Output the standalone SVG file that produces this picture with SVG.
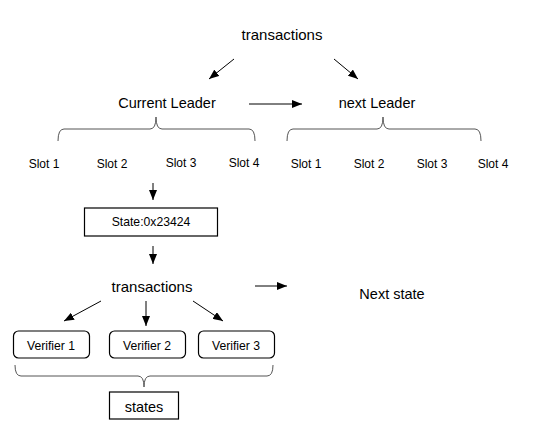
<svg xmlns="http://www.w3.org/2000/svg" width="533" height="443" viewBox="0 0 533 443">
<style>
text{font-family:"Liberation Sans",Arial,sans-serif;fill:#000;text-anchor:middle}
.t15{font-size:15px}.t14{font-size:14.5px}.s{font-size:12px}.v{font-size:12.2px}
.ln{stroke:#000;stroke-width:1;fill:none}
.br{stroke:#555;stroke-width:1;fill:none}
.box{fill:#fff;stroke:#000;stroke-width:1.2}
</style>
<defs>
<marker id="ah" markerUnits="userSpaceOnUse" markerWidth="10" markerHeight="8" refX="10" refY="4" orient="auto">
<path d="M0,0 L10,4 L0,8 z" fill="#000"/>
</marker>
</defs>
<g id="connectors">
<line class="ln" x1="234" y1="59" x2="209" y2="79" marker-end="url(#ah)"/>
<line class="ln" x1="334" y1="59" x2="358" y2="79" marker-end="url(#ah)"/>
<line class="ln" x1="249" y1="104" x2="302" y2="104" marker-end="url(#ah)"/>
<line class="ln" x1="153" y1="183" x2="153" y2="200" marker-end="url(#ah)"/>
<line class="ln" x1="153" y1="246" x2="153" y2="264" marker-end="url(#ah)"/>
<line class="ln" x1="255" y1="286" x2="287" y2="286" marker-end="url(#ah)"/>
<line class="ln" x1="101" y1="301" x2="64" y2="321" marker-end="url(#ah)"/>
<line class="ln" x1="146" y1="301" x2="146" y2="326" marker-end="url(#ah)"/>
<line class="ln" x1="193" y1="301" x2="223" y2="321" marker-end="url(#ah)"/>
<path class="br" d="M58,141 Q58,129 64,129 L150,129 Q156,129 156,117 Q156,129 162,129 L249,129 Q255,129 255,141"/>
<path class="br" d="M287,141 Q287,129 293,129 L377,129 Q383,129 383,117 Q383,129 389,129 L475,129 Q481,129 481,141"/>
<path class="br" d="M15,365 Q15,376 21,376 L138,376 Q144,376 144,387 Q144,376 150,376 L267,376 Q273,376 273,365"/>
</g>
<g id="transactions-top"><text class="t15" x="282" y="40">transactions</text></g>
<g id="current-leader"><text class="t14" x="167" y="108">Current Leader</text></g>
<g id="next-leader"><text class="t14" x="377" y="108">next Leader</text></g>
<g id="slots">
<text class="s" x="44" y="168">Slot 1</text>
<text class="s" x="112" y="168">Slot 2</text>
<text class="s" x="181" y="167">Slot 3</text>
<text class="s" x="244" y="167">Slot 4</text>
<text class="s" x="306" y="168">Slot 1</text>
<text class="s" x="369" y="168">Slot 2</text>
<text class="s" x="432" y="168">Slot 3</text>
<text class="s" x="493" y="168">Slot 4</text>
</g>
<g id="state"><rect class="box" x="84.5" y="208" width="133" height="28"/><text class="v" x="151" y="226">State:0x23424</text></g>
<g id="transactions-mid"><text class="t15" x="152" y="292">transactions</text></g>
<g id="next-state"><text class="t14" x="392" y="299">Next state</text></g>
<g id="verifier1"><rect class="box" x="13.5" y="331" width="76" height="27" rx="5"/><text class="v" x="51" y="350">Verifier 1</text></g>
<g id="verifier2"><rect class="box" x="109.5" y="331" width="76" height="27" rx="5"/><text class="v" x="147" y="350">Verifier 2</text></g>
<g id="verifier3"><rect class="box" x="198.5" y="331" width="76" height="27" rx="5"/><text class="v" x="236" y="350">Verifier 3</text></g>
<g id="states"><rect class="box" x="109.5" y="392" width="69" height="27"/><text class="t14" x="144" y="412">states</text></g>
</svg>
